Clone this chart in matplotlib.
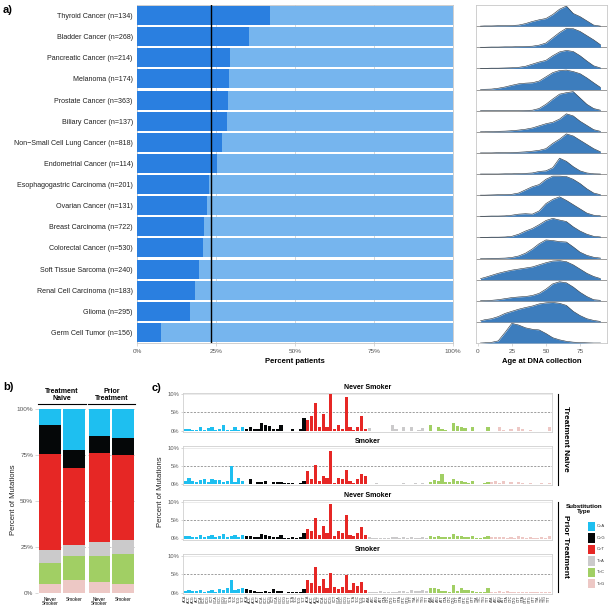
import numpy as np
import matplotlib
matplotlib.use('Agg')
import matplotlib.pyplot as plt
from matplotlib.patches import Rectangle

plt.rcParams['font.family'] = ['Liberation Sans', 'DejaVu Sans']

W, H = 612, 611

# ---- panel a data ----
cancers = ['Thyroid Cancer (n=134)', 'Bladder Cancer (n=268)', 'Pancreatic Cancer (n=214)',
           'Melanoma (n=174)', 'Prostate Cancer (n=363)', 'Biliary Cancer (n=137)',
           'Non\u2212Small Cell Lung Cancer (n=818)', 'Endometrial Cancer (n=114)',
           'Esophagogastric Carcinoma (n=201)', 'Ovarian Cancer (n=131)', 'Breast Carcinoma (n=722)',
           'Colorectal Cancer (n=530)', 'Soft Tissue Sarcoma (n=240)', 'Renal Cell Carcinoma (n=183)',
           'Glioma (n=295)', 'Germ Cell Tumor (n=156)']
pct_dark = [0.42, 0.355, 0.294, 0.291, 0.287, 0.284, 0.270, 0.254,
            0.229, 0.222, 0.212, 0.209, 0.195, 0.184, 0.168, 0.076]
overall_pct = 0.234

# ridgeline heights (fraction of row height) at these ages
ages = [2, 5, 10, 15, 20, 25, 30, 35, 40, 45, 50, 55, 60, 65, 70, 75, 80, 85, 90]
dens_thyroid = [0.0, 0.01, 0.01, 0.02, 0.02, 0.03, 0.05, 0.12, 0.22, 0.30, 0.36, 0.55, 0.80, 0.95, 0.60, 0.45, 0.25, 0.05, 0.0]
dens_bladder = [0.0, 0.0, 0.01, 0.01, 0.02, 0.02, 0.03, 0.04, 0.05, 0.10, 0.20, 0.45, 0.70, 0.90, 0.88, 0.75, 0.55, 0.35, 0.12]
dens_pancreatic = [0.0, 0.0, 0.01, 0.01, 0.02, 0.03, 0.05, 0.10, 0.20, 0.30, 0.38, 0.60, 0.78, 0.85, 0.80, 0.60, 0.35, 0.12, 0.02]
dens_melanoma = [0.0, 0.01, 0.02, 0.06, 0.12, 0.20, 0.27, 0.30, 0.32, 0.40, 0.60, 0.80, 0.90, 0.92, 0.85, 0.75, 0.55, 0.32, 0.10]
dens_prostate = [0.0, 0.0, 0.0, 0.0, 0.0, 0.0, 0.0, 0.01, 0.02, 0.10, 0.30, 0.55, 0.78, 0.85, 0.90, 0.60, 0.30, 0.10, 0.02]
dens_biliary = [0.0, 0.0, 0.01, 0.02, 0.03, 0.05, 0.08, 0.12, 0.18, 0.28, 0.38, 0.45, 0.60, 0.85, 0.75, 0.50, 0.30, 0.10, 0.02]
dens_nsclc = [0.0, 0.0, 0.0, 0.01, 0.01, 0.02, 0.03, 0.05, 0.08, 0.12, 0.20, 0.45, 0.65, 0.90, 0.80, 0.60, 0.40, 0.20, 0.05]
dens_endometrial = [0.0, 0.0, 0.0, 0.0, 0.01, 0.01, 0.02, 0.03, 0.05, 0.12, 0.15, 0.30, 0.75, 0.60, 0.35, 0.15, 0.05, 0.01, 0.0]
dens_esophago = [0.0, 0.0, 0.01, 0.02, 0.03, 0.04, 0.10, 0.25, 0.40, 0.50, 0.75, 0.90, 0.90, 0.88, 0.75, 0.55, 0.30, 0.10, 0.02]
dens_ovarian = [0.0, 0.0, 0.01, 0.01, 0.02, 0.05, 0.10, 0.12, 0.10, 0.25, 0.60, 0.80, 0.92, 0.75, 0.55, 0.35, 0.15, 0.05, 0.02]
dens_breast = [0.0, 0.0, 0.01, 0.01, 0.02, 0.05, 0.15, 0.30, 0.42, 0.60, 0.80, 0.90, 0.82, 0.75, 0.50, 0.30, 0.15, 0.05, 0.02]
dens_colorectal = [0.0, 0.0, 0.01, 0.01, 0.02, 0.05, 0.12, 0.25, 0.45, 0.70, 0.88, 0.85, 0.80, 0.78, 0.55, 0.30, 0.15, 0.06, 0.02]
dens_soft = [0.05, 0.10, 0.20, 0.30, 0.38, 0.45, 0.50, 0.55, 0.60, 0.70, 0.80, 0.88, 0.90, 0.85, 0.70, 0.50, 0.30, 0.15, 0.05]
dens_renal = [0.0, 0.01, 0.02, 0.05, 0.10, 0.15, 0.18, 0.20, 0.25, 0.35, 0.55, 0.80, 0.90, 0.85, 0.65, 0.40, 0.20, 0.05, 0.02]
dens_glioma = [0.05, 0.10, 0.15, 0.25, 0.40, 0.50, 0.60, 0.68, 0.75, 0.85, 0.90, 0.92, 0.88, 0.78, 0.50, 0.30, 0.15, 0.07, 0.02]
dens_germ = [0.0, 0.01, 0.03, 0.10, 0.50, 0.93, 0.85, 0.72, 0.65, 0.62, 0.45, 0.25, 0.15, 0.08, 0.04, 0.02, 0.01, 0.0, 0.0]
densities = [dens_thyroid, dens_bladder, dens_pancreatic, dens_melanoma, dens_prostate, dens_biliary,
             dens_nsclc, dens_endometrial, dens_esophago, dens_ovarian, dens_breast, dens_colorectal,
             dens_soft, dens_renal, dens_glioma, dens_germ]

# ---- panel b data (percent) ----
groups_b = ['Never\nSmoker', 'Smoker']
subs = ['C>A', 'C>G', 'C>T', 'T>A', 'T>C', 'T>G']
sub_colors = ['#1ebff0', '#050708', '#e62725', '#cbcacb', '#a1cf64', '#edc8c5']
# order: C>A, C>G, C>T, T>A, T>C, T>G
naive_never = [8.4, 16.0, 52.3, 6.9, 11.7, 4.7]
naive_smoker = [22.0, 9.8, 42.0, 6.0, 13.3, 6.9]
prior_never = [14.4, 9.3, 48.8, 7.5, 14.3, 5.7]
prior_smoker = [15.8, 9.1, 46.4, 7.6, 16.4, 4.7]

# ---- panel c data (percent of mutations, 96 contexts) ----
tn_never = [0.4, 0.4, 0.1, 0.1, 1.0, 0.3, 0.7, 1.0, 0.1, 0.5, 1.6, 0.1, 0.1, 1.0, 0.3, 1.0,
            0.5, 1.0, 0.5, 0.4, 2.2, 1.6, 1.2, 0.5, 0.5, 1.6, 0.0, 0.0, 0.5, 0.0, 0.5, 3.4,
            2.8, 3.9, 7.6, 1.0, 4.6, 1.0, 10.0, 0.5, 1.6, 0.5, 9.3, 1.0, 0.1, 1.0, 4.0, 0.5,
            0.8, 0.0, 0.0, 0.0, 0.0, 0.0, 1.5, 0.4, 0.0, 0.9, 0.0, 0.9, 0.0, 0.2, 0.8, 0.0,
            1.5, 0.0, 1.0, 0.4, 0.2, 0.0, 2.2, 1.2, 1.0, 0.6, 0.0, 1.0, 0.0, 0.0, 0.0, 1.0,
            0.0, 0.0, 0.9, 0.3, 0.0, 0.4, 0.0, 0.9, 0.4, 0.0, 0.2, 0.0, 0.0, 0.0, 0.0, 1.0]
tn_smoker = [0.9, 1.8, 0.9, 0.6, 1.3, 1.5, 0.6, 1.5, 1.2, 1.3, 0.5, 0.9, 5.0, 0.6, 1.8, 1.0,
             0.0, 1.5, 0.0, 0.7, 0.6, 1.0, 0.0, 0.5, 0.7, 0.7, 0.4, 0.3, 0.3, 0.0, 0.3, 1.0,
             3.7, 1.5, 5.2, 1.0, 2.4, 1.8, 9.1, 0.4, 1.8, 1.5, 4.0, 0.8, 0.4, 1.5, 2.7, 2.4,
             0.2, 0.1, 0.3, 0.1, 0.1, 0.1, 0.1, 0.1, 0.2, 0.4, 0.1, 0.2, 0.3, 0.1, 0.3, 0.1,
             0.5, 1.2, 0.8, 2.7, 0.6, 0.6, 1.5, 0.9, 0.8, 0.5, 0.4, 0.8, 0.2, 0.1, 0.4, 0.6,
             0.5, 1.0, 0.3, 1.0, 0.2, 0.5, 0.2, 0.7, 0.3, 0.2, 0.3, 0.1, 0.2, 0.4, 0.2, 0.4]
pt_never = [0.8, 0.6, 0.4, 0.5, 1.0, 0.5, 0.7, 0.9, 0.4, 0.6, 1.2, 0.5, 0.6, 1.0, 0.5, 0.9,
            0.6, 0.8, 0.4, 0.5, 1.2, 1.0, 0.6, 0.5, 0.5, 1.0, 0.2, 0.2, 0.4, 0.2, 0.4, 1.5,
            2.5, 2.0, 5.5, 1.0, 3.5, 1.5, 9.5, 0.8, 2.0, 1.5, 6.5, 1.0, 0.8, 1.5, 3.0, 1.0,
            0.3, 0.2, 0.2, 0.2, 0.2, 0.2, 0.5, 0.3, 0.2, 0.4, 0.2, 0.4, 0.2, 0.2, 0.4, 0.2,
            0.8, 0.4, 0.6, 0.5, 0.3, 0.3, 1.2, 0.7, 0.6, 0.4, 0.3, 0.6, 0.2, 0.2, 0.3, 0.6,
            0.3, 0.3, 0.5, 0.3, 0.2, 0.4, 0.2, 0.6, 0.4, 0.2, 0.3, 0.2, 0.2, 0.3, 0.2, 0.6]
pt_smoker = [0.5, 0.6, 0.4, 0.4, 0.7, 0.2, 0.4, 0.6, 0.1, 1.0, 0.6, 1.3, 3.5, 0.6, 0.9, 1.2,
             1.0, 0.6, 0.5, 0.1, 0.3, 0.4, 0.1, 1.0, 0.5, 0.4, 0.0, 0.2, 0.2, 0.3, 0.1, 0.9,
             3.5, 2.6, 6.9, 1.9, 3.7, 1.4, 5.2, 1.5, 1.0, 1.6, 4.8, 0.7, 2.6, 1.7, 2.8, 0.8,
             0.2, 0.3, 0.2, 0.4, 0.2, 0.1, 0.3, 0.2, 0.4, 0.5, 0.3, 0.6, 0.4, 0.5, 0.6, 0.4,
             1.4, 1.4, 1.0, 0.4, 0.5, 0.2, 2.2, 0.4, 1.2, 0.8, 0.6, 0.5, 0.2, 0.3, 0.2, 1.2,
             0.2, 0.2, 0.4, 0.3, 0.5, 0.3, 0.2, 0.3, 0.2, 0.1, 0.2, 0.1, 0.2, 0.1, 0.2, 0.2]

contexts = [a + s[0] + b for s in subs for a in 'ACGT' for b in 'ACGT']


def add_ax(l, t, r, b):
    return fig.add_axes([l / W, 1 - b / H, (r - l) / W, (b - t) / H])


def ftext(x, y, s, **kw):
    return fig.text(x / W, 1 - y / H, s, **kw)


fig = plt.figure(figsize=(W / 100, H / 100), dpi=100)
grid_col = '#c8c8c8'
tick_col = '#555555'

# ================= panel a: bars =================
ax = add_ax(137, 5, 453, 343)
n = len(cancers)
yc = [n - 0.5 - k for k in range(n)]
ax.barh(yc, [1.0] * n, height=0.9, color='#76b5ee', zorder=2)
ax.barh(yc, pct_dark, height=0.9, color='#2a7fe0', zorder=3)
ax.axvline(overall_pct, color='black', lw=1.0, zorder=4)
ax.set_xlim(0, 1)
ax.set_ylim(0, n)
ax.set_xticks([0, 0.25, 0.5, 0.75, 1.0])
ax.set_xticklabels(['0%', '25%', '50%', '75%', '100%'])
ax.grid(axis='x', color=grid_col, lw=0.5, zorder=0)
ax.set_yticks(yc)
ax.set_yticklabels(cancers, fontsize=5.1, color='#222222')
ax.tick_params(axis='y', length=0, pad=3)
ax.tick_params(axis='x', length=2, width=0.5, color=grid_col, labelsize=4.6, labelcolor=tick_col, pad=2)
for sp in ax.spines.values():
    sp.set_color(grid_col)
    sp.set_linewidth(0.6)
ax.set_xlabel('Percent patients', fontsize=5.5, fontweight='bold', labelpad=3)

# ================= panel a: ridgelines =================
axd = add_ax(476, 5, 607, 343)
for k, d in enumerate(densities):
    base = n - 1 - k
    axd.axhline(base, color='#9a9a9a', lw=0.7, zorder=1)
    axd.fill_between(ages, base, np.array(d) + base, color='#3d7dbd', lw=0, zorder=2 + k)
    axd.plot(ages, np.array(d) + base, color='#1c2b3a', lw=0.4, zorder=2 + k)
axd.set_xlim(-1.3, 94.8)
axd.set_ylim(0, n)
axd.set_yticks([])
axd.set_xticks([0, 25, 50, 75])
axd.tick_params(axis='x', length=2, width=0.5, color=grid_col, labelsize=4.6, labelcolor=tick_col, pad=2)
for sp in axd.spines.values():
    sp.set_color(grid_col)
    sp.set_linewidth(0.6)
axd.set_xlabel('Age at DNA collection', fontsize=5.5, fontweight='bold', labelpad=3)

ftext(3, 10, 'a)', fontsize=8, fontweight='bold', va='center')
ftext(3, 387, 'b)', fontsize=8, fontweight='bold', va='center')
ftext(152, 388, 'c)', fontsize=8, fontweight='bold', va='center')

# ================= panel b =================
facets = [('Treatment\nNaive', naive_never, naive_smoker, 38.0, 85.6),
          ('Prior\nTreatment', prior_never, prior_smoker, 87.6, 135.2)]
for fi, (title, v_never, v_smoker, l, r) in enumerate(facets):
    axb = add_ax(l, 409.3, r, 592.7)
    for xi, vals in enumerate([v_never, v_smoker]):
        bottom = 0
        # stack from T>G at bottom up to C>A
        for j in range(5, -1, -1):
            axb.bar(xi + 1, vals[j], bottom=bottom, width=0.92, color=sub_colors[j], zorder=2)
            bottom += vals[j]
    axb.set_xlim(0.5, 2.5)
    axb.set_ylim(0, 100)
    axb.set_yticks([0, 25, 50, 75, 100])
    axb.grid(axis='y', color='#b0b0b0', lw=0.5, ls=(0, (3, 3)), zorder=0)
    axb.set_xticks([1, 2])
    axb.set_xticklabels(groups_b, fontsize=3.4, linespacing=0.9)
    axb.tick_params(axis='x', length=0, pad=3)
    if fi == 0:
        axb.set_yticklabels(['0%', '25%', '50%', '75%', '100%'])
        axb.tick_params(axis='y', length=2, width=0.5, color=grid_col, labelsize=4.6, labelcolor=tick_col, pad=1.5)
    else:
        axb.tick_params(axis='y', length=0, labelleft=False)
    for sp in axb.spines.values():
        sp.set_visible(False)
    ftext((l + r) / 2, 395, title, fontsize=5, fontweight='bold', ha='center', va='center', linespacing=1.0)
    fig.add_artist(plt.Line2D([l / W, r / W], [1 - 403.5 / H, 1 - 403.5 / H], color='black', lw=0.8))
ftext(14, 500, 'Percent of Mutations', fontsize=5.5, rotation=90, ha='center', va='center', color='#222222')

# ================= panel c =================
sig_panels = [('Never Smoker', tn_never, 430.7, 394.0),
              ('Smoker', tn_smoker, 484.3, 447.7),
              ('Never Smoker', pt_never, 538.5, 501.8),
              ('Smoker', pt_smoker, 592.7, 555.7)]
bar_colors = [c for c in sub_colors for _ in range(16)]
for pi, (title, vals, y0, y10) in enumerate(sig_panels):
    pp = (y0 - y10) / 10.0
    axc = add_ax(182.5, y10 - 0.4 * pp, 552, y0 + 0.3 * pp)
    axc.bar(range(96), vals, width=0.8, color=bar_colors, zorder=2)
    axc.axhline(5, color='#777777', lw=0.5, ls=(0, (3, 2)), zorder=1)
    axc.axhline(10, color='#e3e3e3', lw=0.5, zorder=1)
    axc.set_xlim(-0.7, 95.7)
    axc.set_ylim(-0.3, 10.4)
    axc.set_yticks([0, 5, 10])
    axc.set_yticklabels(['0%', '5%', '10%'])
    axc.tick_params(axis='y', length=1.5, width=0.5, color=grid_col, labelsize=4.2, labelcolor=tick_col, pad=1)
    for sp in axc.spines.values():
        sp.set_color('#d0d0d0')
        sp.set_linewidth(0.6)
    axc.set_title(title, fontsize=5, fontweight='bold', pad=2.5)
    if pi == 3:
        axc.set_xticks(range(96))
        axc.set_xticklabels(contexts, rotation=90, fontsize=2.6, color='#333333')
        axc.tick_params(axis='x', length=0, pad=1)
    else:
        axc.set_xticks([])
ftext(160, 492, 'Percent of Mutations', fontsize=5.5, rotation=90, ha='center', va='center', color='#222222')

# right strips
for label, t, b in [('Treatment Naive', 393.5, 484.5), ('Prior Treatment', 501.7, 591.7)]:
    fig.add_artist(plt.Line2D([557.7 / W, 557.7 / W], [1 - t / H, 1 - b / H], color='black', lw=0.8))
    ftext(566, (t + b) / 2, label, fontsize=6, fontweight='bold', rotation=270, ha='center', va='center')

# legend
ftext(584, 509, 'Substitution\nType', fontsize=4.5, fontweight='bold', ha='center', va='center', linespacing=1.1)
for i, (s, c) in enumerate(zip(subs, sub_colors)):
    top = 521.7 + i * 11.45
    fig.add_artist(Rectangle((588.3 / W, 1 - (top + 9.5) / H), 6.5 / W, 9.5 / H,
                             transform=fig.transFigure, color=c, lw=0))
    ftext(597, top + 4.75, s, fontsize=3, va='center', color='#333333')

fig.savefig('out.png', dpi=100)
